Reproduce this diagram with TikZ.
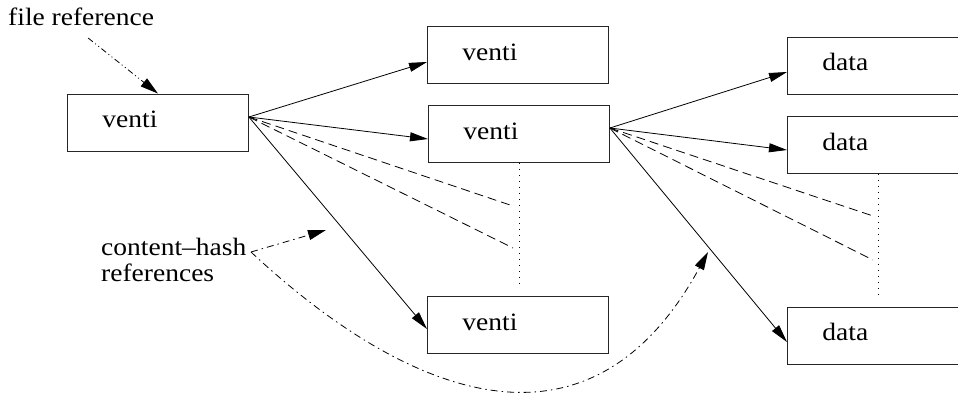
\documentclass[tikz,border=0pt]{standalone}
\usepackage{fontspec}
\setmainfont{Liberation Serif}[FakeStretch=1.1]
\usetikzlibrary{arrows.meta,calc}
\begin{document}
\begin{tikzpicture}[x=1pt,y=-1pt,
  every node/.style={font=\fontsize{25}{26}\selectfont},
  box/.style={draw=black!85, line width=0.9pt, minimum width=181pt, minimum height=57pt,
    inner xsep=0pt, inner ysep=0pt, anchor=west, text width=111pt, align=left,
    text height=10pt, text depth=0pt},
  arr/.style={-{Triangle[length=18pt,width=9pt]}, line width=0.8pt},
  dsh/.style={line width=0.8pt, dash pattern=on 9pt off 5pt},
  dotl/.style={line width=0.9pt, dash pattern=on 1pt off 5pt},
  ddarr/.style={-{Triangle[length=18pt,width=10pt]}, line width=0.8pt,
    dash pattern=on 6pt off 3pt on 1pt off 3pt on 1pt off 3pt},
  dcarr/.style={-{Triangle[length=18pt,width=10pt]}, line width=0.8pt,
    dash pattern=on 7pt off 4pt on 1.5pt off 4pt}]
\useasboundingbox (0,0) rectangle (958,396);

\node[box] (v0) at (67,122.5) {venti};
\node[box] (v1) at (427,55) {venti};
\node[box] (v2) at (428,134) {venti};
\node[box] (v3) at (427,325) {venti};
\node[box] (d1) at (787,65.5) {data};
\node[box] (d2) at (787,145) {data};
\node[box] (d3) at (787,335.5) {data};

\coordinate (o0) at ($(v0.east)+(0,-5.5)$);
\coordinate (o2) at ($(v2.east)+(0,-6)$);

\draw[arr] (o0) -- ($(v1.west)+(0,7)$);
\draw[arr] (o0) -- ($(v2.west)+(0,5)$);
\draw[arr] (o0) -- ($(v3.west)+(0,4)$);
\draw[arr] (o2) -- ($(d1.west)+(0,6.5)$);
\draw[arr] (o2) -- ($(d2.west)+(0,5)$);
\draw[arr] (o2) -- ($(d3.west)+(0,6.5)$);

\coordinate (e1) at (513,206);
\coordinate (e2) at (513,248);
\coordinate (e3) at (873,216);
\coordinate (e4) at (873,260);
\draw[dsh] (o0) -- (e1);
\draw[dsh] (o0) -- (e2);
\draw[dsh] (o2) -- (e3);
\draw[dsh] (o2) -- (e4);

\coordinate (b1) at ($(v2.south)+(0,121)$);
\coordinate (b2) at ($(d2.south)+(0,121)$);
\draw[dotl] (v2.south) -- (b1);
\draw[dotl] (d2.south) -- (b2);

\node[anchor=base west, inner sep=0pt] (fr) at (8,26) {file reference};
\draw[ddarr] ($(fr.base)+(7,12)$) -- (v0.north);

\node[anchor=north west, inner sep=0pt, align=left] (ch) at (101,238) {content--hash\\references};
\coordinate (cs) at (251,252);
\coordinate (c1) at (326,230);
\coordinate (c2) at (708,252);
\draw[dcarr] (cs) -- (c1);
\draw[dcarr] (cs) .. controls (399,390) and (586,476) .. (c2);
\end{tikzpicture}
\end{document}
